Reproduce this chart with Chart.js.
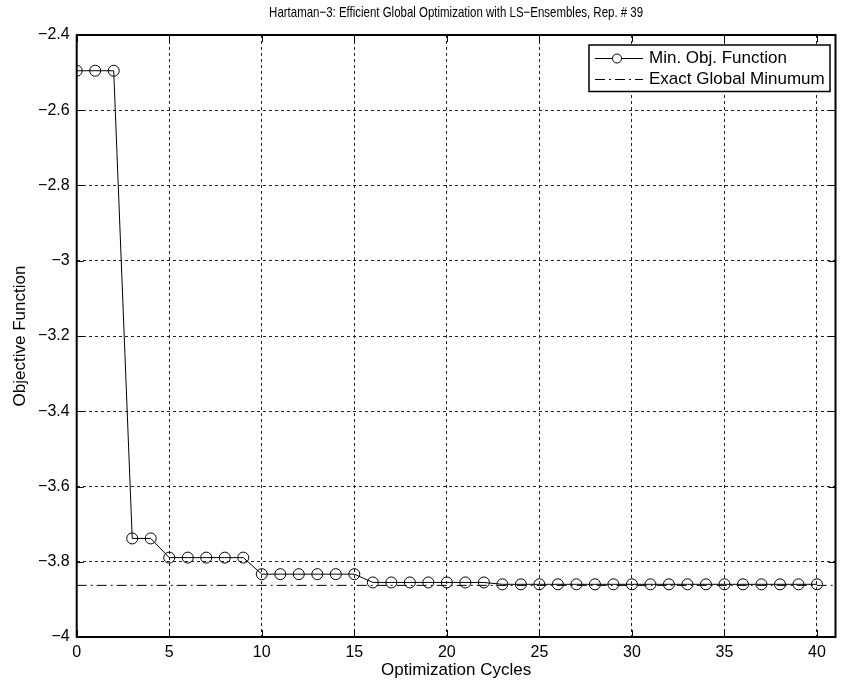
<!DOCTYPE html>
<html>
<head>
<meta charset="utf-8">
<script src="https://cdn.jsdelivr.net/npm/chart.js@4.4.1/dist/chart.umd.min.js"></script>
<style>
  html, body { margin: 0; padding: 0; background: #fff; }
  #wrap { width: 842px; height: 682px; position: relative; }
</style>
</head>
<body>
<div id="wrap"><canvas id="chart" width="842" height="682"></canvas></div>
<script>
// ---------- Data ----------
const TITLE = "Hartaman\u22123: Efficient Global Optimization with LS\u2212Ensembles, Rep. # 39";
const cycles = [0,1,2,3,4,5,6,7,8,9,10,11,12,13,14,15,16,17,18,19,20,
                21,22,23,24,25,26,27,28,29,30,31,32,33,34,35,36,37,38,39,40];
const minObj = [-2.495,-2.495,-2.495,-3.738,-3.738,
                -3.789,-3.789,-3.789,-3.789,-3.789,
                -3.833,-3.833,-3.833,-3.833,-3.833,-3.833,
                -3.855,-3.855,-3.855,-3.855,-3.855,-3.855,-3.855,
                -3.860,-3.860,-3.860,-3.860,-3.860,-3.860,-3.860,-3.860,-3.860,
                -3.860,-3.860,-3.860,-3.860,-3.860,-3.860,-3.860,-3.860,-3.860];
const globalMinX = [0, 41];
const globalMinY = [-3.86278, -3.86278];
const xTicks = [0, 5, 10, 15, 20, 25, 30, 35, 40];
const yTicks = [-4, -3.8, -3.6, -3.4, -3.2, -3, -2.8, -2.6, -2.4];
const xRange = [0, 41];
const yRange = [-4, -2.4];
const FONT = "'Liberation Sans', Arial, Helvetica, sans-serif";

const minus = s => String(s).replace("-", "\u2212");

// ---------- MATLAB style box, inner ticks, title, legend ----------
const matlabDeco = {
  id: "matlabDeco",
  afterDraw(chart) {
    const { ctx, chartArea: a, scales } = chart;
    const xs = scales.x, ys = scales.y;
    ctx.save();
    ctx.setLineDash([]);
    ctx.strokeStyle = "#000";
    ctx.lineWidth = 1;
    // inner tick marks
    const tl = 7;
    ctx.beginPath();
    xs.ticks.forEach(t => {
      const px = Math.round(xs.getPixelForValue(t.value)) + 0.5;
      ctx.moveTo(px, a.bottom); ctx.lineTo(px, a.bottom - tl);
      ctx.moveTo(px, a.top); ctx.lineTo(px, a.top + tl);
    });
    ys.ticks.forEach(t => {
      const py = Math.round(ys.getPixelForValue(t.value)) + 0.5;
      ctx.moveTo(a.left, py); ctx.lineTo(a.left + tl, py);
      ctx.moveTo(a.right, py); ctx.lineTo(a.right - tl, py);
    });
    ctx.stroke();
    // box
    ctx.lineWidth = 2;
    ctx.strokeRect(a.left, a.top, a.right - a.left, a.bottom - a.top);

    // title (condensed, like the original)
    ctx.save();
    ctx.fillStyle = "#000";
    ctx.font = "15px " + FONT;
    ctx.textAlign = "center";
    ctx.textBaseline = "middle";
    const sx = 374 / ctx.measureText(TITLE).width;
    ctx.translate((a.left + a.right) / 2, 13);
    ctx.scale(sx, 1);
    ctx.fillText(TITLE, 0, 0);
    ctx.restore();

    // legend
    const lx = 589, ly = 45, lw = 241, lh = 46.5;
    ctx.fillStyle = "#fff";
    ctx.fillRect(lx, ly, lw, lh);
    ctx.lineWidth = 1.5;
    ctx.strokeStyle = "#000";
    ctx.strokeRect(lx, ly, lw, lh);
    chart.data.datasets.forEach((ds, i) => {
      const y = ly + 13.5 + i * 21;
      ctx.save();
      ctx.strokeStyle = ds.borderColor;
      ctx.lineWidth = ds.borderWidth;
      ctx.setLineDash(ds.borderDash || []);
      ctx.beginPath();
      ctx.moveTo(lx + 6, y); ctx.lineTo(lx + 54, y);
      ctx.stroke();
      if (ds.pointRadius > 0) {
        ctx.setLineDash([]);
        ctx.strokeStyle = ds.pointBorderColor;
        ctx.lineWidth = ds.pointBorderWidth;
        ctx.beginPath();
        ctx.arc(lx + 28, y, 4.5, 0, Math.PI * 2);
        ctx.fillStyle = "#fff";
        ctx.fill();
        ctx.stroke();
      }
      ctx.restore();
      ctx.fillStyle = "#000";
      ctx.font = "17px " + FONT;
      ctx.textAlign = "left";
      ctx.textBaseline = "middle";
      ctx.fillText(ds.label, lx + 60, y);
    });
    ctx.restore();
  }
};

new Chart(document.getElementById("chart"), {
  type: "line",
  data: {
    datasets: [
      {
        label: "Min. Obj. Function",
        data: cycles.map((c, i) => ({ x: c, y: minObj[i] })),
        borderColor: "#000",
        borderWidth: 1,
        pointRadius: 5.5,
        pointBorderColor: "#000",
        pointBorderWidth: 1,
        pointBackgroundColor: "rgba(0,0,0,0)",
        tension: 0
      },
      {
        label: "Exact Global Minumum",
        data: globalMinX.map((x, i) => ({ x: x, y: globalMinY[i] })),
        borderColor: "#000",
        borderWidth: 1,
        borderDash: [10, 4, 2, 4],
        pointRadius: 0,
        tension: 0
      }
    ]
  },
  options: {
    responsive: false,
    animation: false,
    events: [],
    layout: { padding: { left: 0, top: 35, right: 4, bottom: 0 } },
    plugins: {
      legend: { display: false },
      title: { display: false },
      tooltip: { enabled: false }
    },
    scales: {
      x: {
        type: "linear",
        min: xRange[0],
        max: xRange[1],
        afterFit: s => { s.height = 45; },
        afterBuildTicks: s => { s.ticks = xTicks.map(v => ({ value: v })); },
        grid: { color: "#222", lineWidth: 1, drawTicks: false },
        border: { display: false, dash: [3, 3] },
        ticks: {
          padding: 6,
          color: "#000",
          font: { family: FONT, size: 16 },
          maxRotation: 0,
          autoSkip: false
        },
        title: {
          display: true,
          text: "Optimization Cycles",
          color: "#000",
          font: { family: FONT, size: 17 },
          padding: { top: 0, bottom: 1 }
        }
      },
      y: {
        type: "linear",
        min: yRange[0],
        max: yRange[1],
        afterFit: s => { s.width = 76.7; },
        afterBuildTicks: s => { s.ticks = yTicks.map(v => ({ value: v })); },
        grid: { color: "#222", lineWidth: 1, drawTicks: false },
        border: { display: false, dash: [3, 3] },
        ticks: {
          padding: 7,
          color: "#000",
          font: { family: FONT, size: 16 },
          autoSkip: false,
          callback: v => minus(Number(v.toFixed(1)))
        },
        title: {
          display: true,
          text: "Objective Function",
          color: "#000",
          font: { family: FONT, size: 17 },
          padding: { top: 10, bottom: 0 }
        }
      }
    }
  },
  plugins: [matlabDeco]
});
</script>
</body>
</html>
